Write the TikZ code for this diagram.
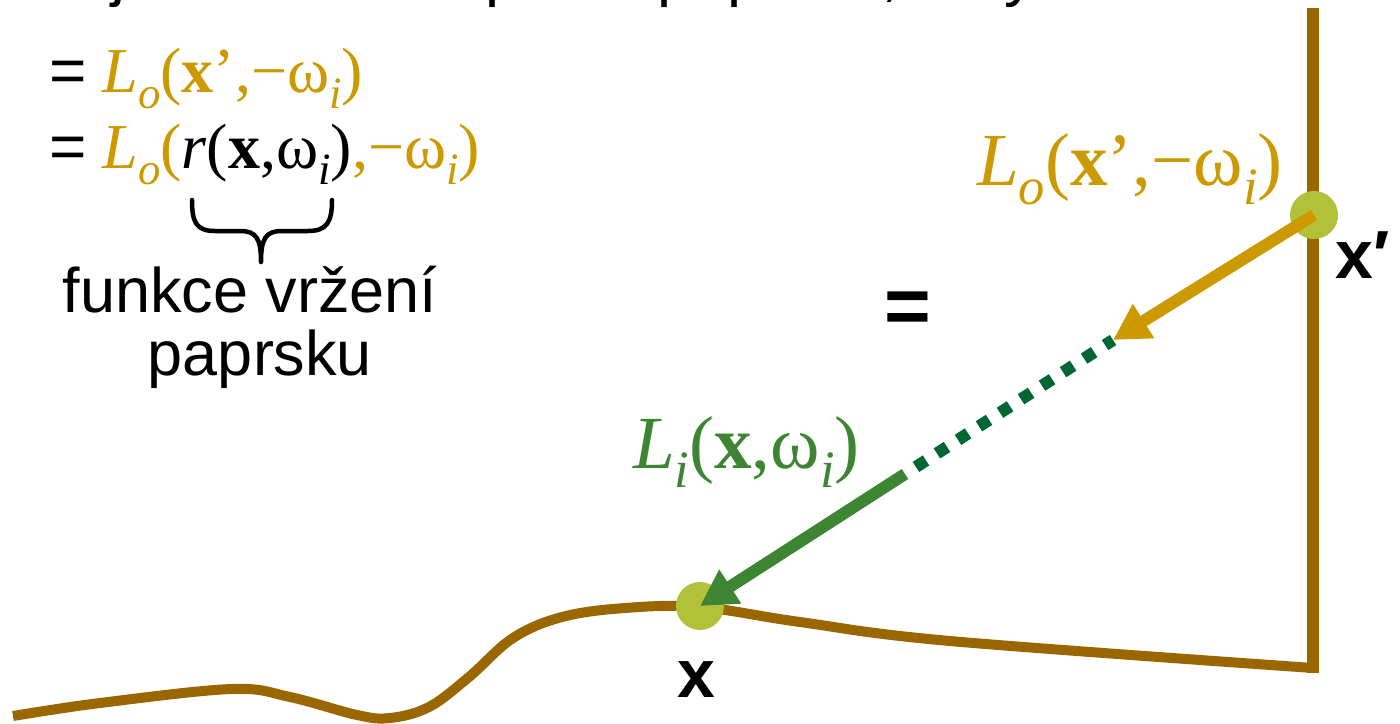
\documentclass[tikz,border=0pt]{standalone}
\usepackage{fontspec}
\setmainfont{Liberation Serif}
\newfontfamily\ar{Liberation Sans}
\usetikzlibrary{arrows.meta}
\definecolor{gold}{RGB}{204,153,0}
\definecolor{groundcol}{RGB}{153,102,0}
\definecolor{ptcol}{RGB}{178,193,58}
\definecolor{arrgreen}{RGB}{61,133,51}
\definecolor{dotgreen}{RGB}{0,102,51}
\newcommand{\lsub}[1]{\raisebox{-0.26em}{\scalebox{0.7}{\itshape #1}}}
\begin{document}
\begin{tikzpicture}[x=1pt,y=-1pt,
  ground/.style={draw=groundcol, line width=10pt, line join=round},
  wall/.style={draw=groundcol, line width=12pt},
  pt/.style={circle, fill=ptcol, minimum size=48pt, inner sep=0pt},
  goldarrow/.style={draw=gold, line width=12pt, -{Triangle[length=36pt,width=38pt]}},
  greenarrow/.style={draw=arrgreen, line width=12pt, -{Triangle[length=36pt,width=38pt]}},
  dotline/.style={draw=dotgreen, line width=12pt, dash pattern=on 12pt off 13pt, dash phase=12pt},
  eq/.style={font=\fontsize{64}{70}\selectfont, inner sep=0pt, anchor=base west},
  lbl/.style={font=\fontsize{75}{80}\selectfont, inner sep=0pt, anchor=base west},
  sans/.style={font=\ar\fontsize{63}{70}\selectfont, inner sep=0pt},
  boldsans/.style={font=\ar\bfseries\fontsize{68}{70}\selectfont, inner sep=0pt},
  brace/.style={draw=black, line width=4.5pt, line cap=round, line join=round}
]
\clip (0,0) rectangle (1400,723);
% cut-off line of text at the top
\node[sans, anchor=base west] (top) at (111,-6) {je konstantní podél paprsku, tedy};
% ground and wall
\draw[ground] plot[smooth, tension=0.6] coordinates {(13,716) (100,703) (232,689) (290,697) (357,715) (390,718) (429,707) (469,677) (513,638) (562,617) (625,608) (700,607) (800,622) (950,641) (1313,668)};
\draw[wall] (1313,673) -- (1313,8);
% points
\node[pt] (xn) at (700,606) {};
\node[pt] (xq) at (1314,215) {};
\coordinate (m) at (1113,340);
\coordinate (g) at (905,474);
% rays
\draw[dotline] (g) -- (m);
\draw[goldarrow] (xq.center) -- (m);
\draw[greenarrow] (g) -- (xn.center);
% labels
\node[lbl, text=gold] (lo) at (977,185) {\textit{L}\lsub{o}(\textbf{x}’,−ω\lsub{i})};
\node[lbl, text=arrgreen] (li) at (633,468) {\textit{L}\lsub{i}(\textbf{x},ω\lsub{i})};
\node[boldsans, anchor=base west] (xql) at (1335,278) {x′};
\node[boldsans, anchor=base] (xnl) at (696,697) {x};
\node[font=\ar\bfseries\fontsize{80}{80}\selectfont, inner sep=0pt] (eqm) at (908,313) {=};
% equations on the left
\node[eq] (e1) at (49,92) {{\ar =} \textcolor{gold}{\textit{L}\lsub{o}(\textbf{x}’,−ω\lsub{i})}};
\node[eq] (e2) at (49,168) {{\ar =} \textcolor{gold}{\textit{L}\lsub{o}(}\textit{r}(\textbf{x},ω\lsub{i})\textcolor{gold}{,−ω\lsub{i})}};
% brace
\draw[brace] (192,200) .. controls (192,222) and (196,231) .. (215,231) -- (240,231) .. controls (256,231) and (261,238) .. (261,262) .. controls (261,238) and (266,231) .. (282,231) -- (308,231) .. controls (327,231) and (332,222) .. (332,200);
\node[sans, anchor=base] (f1) at (250,312) {funkce vržení};
\node[sans, anchor=base] (f2) at (260,375) {paprsku};
\end{tikzpicture}
\end{document}
